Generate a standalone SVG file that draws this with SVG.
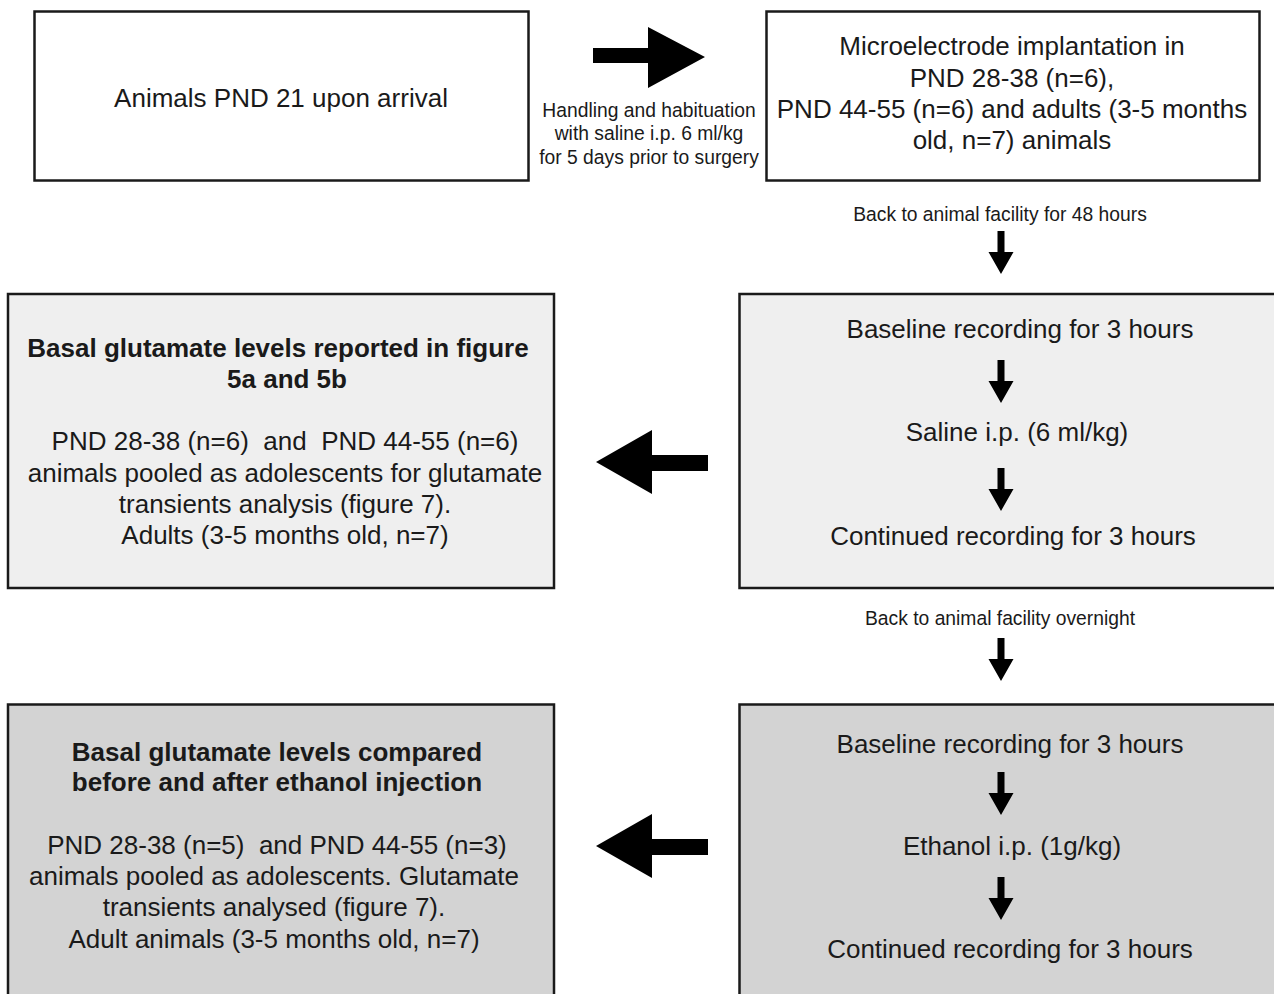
<svg xmlns="http://www.w3.org/2000/svg" width="1274" height="994" viewBox="0 0 1274 994">
<style>
.box{stroke:#1a1a1a;stroke-width:2.5}
.w{fill:#ffffff}.l{fill:#efefef}.d{fill:#d3d3d3}
text{font-family:"Liberation Sans",Arial,sans-serif;fill:#1a1a1a;text-anchor:middle;white-space:pre}
.m{font-size:26px}
.b{font-size:26px;font-weight:bold}
.s{font-size:19.3px}
.arr{fill:#000}
</style>
<defs>
<path id="down" d="M-3.5,0 H3.5 V21 H12.5 L0,43 L-12.5,21 H-3.5 Z"/>
</defs>
<rect width="1274" height="994" fill="#fff"/>
<g id="n-arrival">
<rect class="box w" x="34.5" y="11.5" width="494" height="169"/>
<text class="m" x="281" y="107">Animals PND 21 upon arrival</text>
</g>
<g id="n-implant">
<rect class="box w" x="766.5" y="11.5" width="493" height="169"/>
<text class="m" x="1012" y="55">Microelectrode implantation in</text>
<text class="m" x="1012" y="87">PND 28-38 (n=6),</text>
<text class="m" x="1012" y="118">PND 44-55 (n=6) and adults (3-5 months</text>
<text class="m" x="1012" y="149">old, n=7) animals</text>
</g>
<g id="n-saline">
<rect class="box l" x="739.5" y="294" width="560" height="294"/>
<text class="m" x="1020" y="338">Baseline recording for 3 hours</text>
<text class="m" x="1017" y="441">Saline i.p. (6 ml/kg)</text>
<text class="m" x="1013" y="545">Continued recording for 3 hours</text>
</g>
<g id="n-basal1">
<rect class="box l" x="8" y="294" width="546" height="294"/>
<text class="b" x="278" y="357">Basal glutamate levels reported in figure</text>
<text class="b" x="287" y="388">5a and 5b</text>
<text class="m" x="285" y="450" xml:space="preserve">PND 28-38 (n=6)  and  PND 44-55 (n=6)</text>
<text class="m" x="285" y="482">animals pooled as adolescents for glutamate</text>
<text class="m" x="285" y="513">transients analysis (figure 7).</text>
<text class="m" x="285" y="544">Adults (3-5 months old, n=7)</text>
</g>
<g id="n-ethanol">
<rect class="box d" x="739.5" y="704.5" width="560" height="310"/>
<text class="m" x="1010" y="753">Baseline recording for 3 hours</text>
<text class="m" x="1012" y="855">Ethanol i.p. (1g/kg)</text>
<text class="m" x="1010" y="958">Continued recording for 3 hours</text>
</g>
<g id="n-basal2">
<rect class="box d" x="8" y="704.5" width="546" height="310"/>
<text class="b" x="277" y="761">Basal glutamate levels compared</text>
<text class="b" x="277" y="791">before and after ethanol injection</text>
<text class="m" x="277" y="854" xml:space="preserve">PND 28-38 (n=5)  and PND 44-55 (n=3)</text>
<text class="m" x="274" y="885">animals pooled as adolescents. Glutamate</text>
<text class="m" x="274" y="916">transients analysed (figure 7).</text>
<text class="m" x="274" y="948">Adult animals (3-5 months old, n=7)</text>
</g>
<g id="connectors">
<polygon class="arr" points="593,48 648,48 648,27 705,57 648,88 648,63 593,63"/>
<text class="s" x="649" y="117">Handling and habituation</text>
<text class="s" x="649" y="140">with saline i.p. 6 ml/kg</text>
<text class="s" x="649" y="164">for 5 days prior to surgery</text>
<text class="s" x="1000" y="221">Back to animal facility for 48 hours</text>
<use class="arr" href="#down" x="1001" y="231"/>
<use class="arr" href="#down" x="1001" y="360"/>
<use class="arr" href="#down" x="1001" y="468"/>
<polygon class="arr" points="708,455 652,455 652,430 596,462 652,494 652,471 708,471"/>
<text class="s" x="1000" y="625">Back to animal facility overnight</text>
<use class="arr" href="#down" x="1001" y="638"/>
<use class="arr" href="#down" x="1001" y="772"/>
<use class="arr" href="#down" x="1001" y="877"/>
<polygon class="arr" points="708,839 652,839 652,814 596,846 652,878 652,855 708,855"/>
</g>
</svg>
